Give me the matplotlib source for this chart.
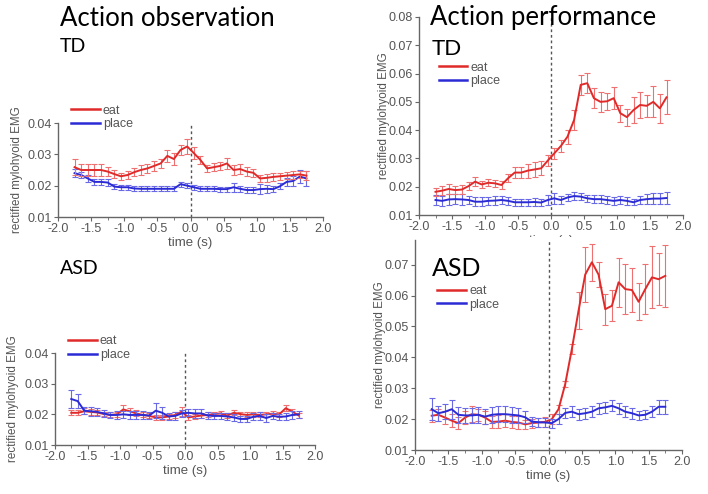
import numpy as np
import matplotlib
matplotlib.use("Agg")
import matplotlib.pyplot as plt
from matplotlib.patches import Rectangle
from matplotlib.lines import Line2D

# ---------------- data ----------------
time_s = [-1.75, -1.65, -1.55, -1.45, -1.35, -1.25, -1.15, -1.05, -0.95, -0.85,
          -0.75, -0.65, -0.55, -0.45, -0.35, -0.25, -0.15, -0.05, 0.05, 0.15,
          0.25, 0.35, 0.45, 0.55, 0.65, 0.75, 0.85, 0.95, 1.05, 1.15,
          1.25, 1.35, 1.45, 1.55, 1.65, 1.75]

# Action observation, TD
obs_td_eat = [0.0259, 0.0250, 0.0250, 0.0250, 0.0250, 0.0245, 0.0237, 0.0230, 0.0234, 0.0243,
              0.0250, 0.0255, 0.0263, 0.0271, 0.0295, 0.0285, 0.0314, 0.0325, 0.0304, 0.0282,
              0.0255, 0.0259, 0.0263, 0.0271, 0.0250, 0.0253, 0.0245, 0.0241, 0.0223, 0.0225,
              0.0228, 0.0230, 0.0232, 0.0234, 0.0236, 0.0232]
obs_td_eat_err = [0.0025, 0.0020, 0.0018, 0.0018, 0.0018, 0.0015, 0.0013, 0.0012, 0.0012, 0.0013,
                  0.0015, 0.0015, 0.0015, 0.0015, 0.0018, 0.0018, 0.0015, 0.0025, 0.0018, 0.0013,
                  0.0012, 0.0012, 0.0012, 0.0018, 0.0015, 0.0015, 0.0013, 0.0013, 0.0012, 0.0012,
                  0.0012, 0.0012, 0.0012, 0.0012, 0.0012, 0.0015]
obs_td_place = [0.0240, 0.0234, 0.0223, 0.0212, 0.0212, 0.0210, 0.0197, 0.0195, 0.0195, 0.0191,
                0.0190, 0.0190, 0.0190, 0.0190, 0.0190, 0.0190, 0.0205, 0.0200, 0.0195, 0.0190,
                0.0190, 0.0190, 0.0189, 0.0189, 0.0195, 0.0190, 0.0186, 0.0186, 0.0189, 0.0190,
                0.0189, 0.0198, 0.0212, 0.0215, 0.0229, 0.0223]
obs_td_place_err = [0.0012, 0.0010, 0.0010, 0.0010, 0.0010, 0.0010, 0.0008, 0.0008, 0.0008, 0.0008,
                    0.0008, 0.0008, 0.0008, 0.0008, 0.0008, 0.0008, 0.0008, 0.0008, 0.0008, 0.0008,
                    0.0008, 0.0008, 0.0008, 0.0008, 0.0015, 0.0010, 0.0010, 0.0010, 0.0015, 0.0012,
                    0.0010, 0.0010, 0.0012, 0.0015, 0.0020, 0.0025]

# Action performance, TD
perf_td_eat = [0.0182, 0.0186, 0.0192, 0.0188, 0.0190, 0.0202, 0.0218, 0.0208, 0.0214, 0.0212,
               0.0206, 0.0230, 0.0250, 0.0250, 0.0257, 0.0261, 0.0265, 0.0292, 0.0318, 0.0344,
               0.0377, 0.0436, 0.0560, 0.0566, 0.0513, 0.0500, 0.0502, 0.0513, 0.0460, 0.0446,
               0.0471, 0.0489, 0.0486, 0.0500, 0.0477, 0.0516]
perf_td_eat_err = [0.0015, 0.0015, 0.0018, 0.0015, 0.0015, 0.0015, 0.0015, 0.0013, 0.0013, 0.0013,
                   0.0013, 0.0015, 0.0020, 0.0020, 0.0025, 0.0025, 0.0025, 0.0020, 0.0020, 0.0020,
                   0.0025, 0.0035, 0.0035, 0.0035, 0.0035, 0.0035, 0.0030, 0.0040, 0.0030, 0.0030,
                   0.0045, 0.0045, 0.0040, 0.0055, 0.0050, 0.0060]
perf_td_place = [0.0153, 0.0150, 0.0155, 0.0156, 0.0155, 0.0153, 0.0147, 0.0147, 0.0150, 0.0151,
                 0.0153, 0.0150, 0.0145, 0.0145, 0.0145, 0.0146, 0.0144, 0.0153, 0.0159, 0.0153,
                 0.0162, 0.0167, 0.0165, 0.0159, 0.0156, 0.0156, 0.0153, 0.0150, 0.0153, 0.0150,
                 0.0145, 0.0153, 0.0156, 0.0158, 0.0158, 0.0160]
perf_td_place_err = [0.0018, 0.0018, 0.0018, 0.0018, 0.0018, 0.0015, 0.0015, 0.0015, 0.0015, 0.0015,
                     0.0015, 0.0015, 0.0013, 0.0013, 0.0013, 0.0013, 0.0013, 0.0018, 0.0020, 0.0015,
                     0.0013, 0.0013, 0.0013, 0.0013, 0.0013, 0.0013, 0.0013, 0.0013, 0.0013, 0.0013,
                     0.0010, 0.0013, 0.0018, 0.0020, 0.0020, 0.0022]

# Action observation, ASD
obs_asd_eat = [0.0205, 0.0205, 0.0210, 0.0208, 0.0206, 0.0201, 0.0198, 0.0200, 0.0216, 0.0210,
               0.0203, 0.0198, 0.0195, 0.0190, 0.0190, 0.0193, 0.0198, 0.0209, 0.0190, 0.0193,
               0.0196, 0.0198, 0.0201, 0.0203, 0.0196, 0.0205, 0.0201, 0.0198, 0.0200, 0.0198,
               0.0200, 0.0202, 0.0200, 0.0220, 0.0209, 0.0196]
obs_asd_eat_err = [0.0008, 0.0008, 0.0010, 0.0010, 0.0008, 0.0008, 0.0008, 0.0008, 0.0015, 0.0012,
                   0.0010, 0.0008, 0.0008, 0.0008, 0.0008, 0.0008, 0.0010, 0.0015, 0.0008, 0.0008,
                   0.0008, 0.0008, 0.0008, 0.0008, 0.0008, 0.0008, 0.0008, 0.0008, 0.0008, 0.0008,
                   0.0008, 0.0008, 0.0008, 0.0010, 0.0010, 0.0008]
obs_asd_place = [0.0250, 0.0243, 0.0212, 0.0210, 0.0208, 0.0203, 0.0198, 0.0198, 0.0200, 0.0198,
                 0.0198, 0.0198, 0.0196, 0.0212, 0.0205, 0.0193, 0.0195, 0.0203, 0.0205, 0.0203,
                 0.0203, 0.0196, 0.0195, 0.0195, 0.0193, 0.0190, 0.0185, 0.0185, 0.0192, 0.0195,
                 0.0188, 0.0195, 0.0192, 0.0193, 0.0198, 0.0200]
obs_asd_place_err = [0.0030, 0.0022, 0.0012, 0.0015, 0.0012, 0.0012, 0.0010, 0.0012, 0.0012, 0.0012,
                     0.0012, 0.0012, 0.0012, 0.0025, 0.0020, 0.0012, 0.0012, 0.0012, 0.0012, 0.0015,
                     0.0015, 0.0010, 0.0010, 0.0010, 0.0012, 0.0012, 0.0010, 0.0010, 0.0012, 0.0012,
                     0.0012, 0.0010, 0.0010, 0.0010, 0.0012, 0.0012]

# Action performance, ASD
perf_asd_eat = [0.0211, 0.0214, 0.0205, 0.0195, 0.0187, 0.0205, 0.0216, 0.0214, 0.0205, 0.0191,
                0.0192, 0.0195, 0.0191, 0.0189, 0.0183, 0.0187, 0.0189, 0.0191, 0.0200, 0.0232,
                0.0313, 0.0427, 0.0551, 0.0668, 0.0708, 0.0668, 0.0556, 0.0567, 0.0643, 0.0621,
                0.0618, 0.0580, 0.0621, 0.0659, 0.0653, 0.0664]
perf_asd_eat_err = [0.0020, 0.0020, 0.0020, 0.0020, 0.0020, 0.0020, 0.0025, 0.0020, 0.0020, 0.0020,
                    0.0020, 0.0020, 0.0020, 0.0020, 0.0015, 0.0015, 0.0015, 0.0015, 0.0015, 0.0015,
                    0.0010, 0.0015, 0.0060, 0.0090, 0.0060, 0.0040, 0.0050, 0.0050, 0.0080, 0.0080,
                    0.0070, 0.0060, 0.0080, 0.0100, 0.0085, 0.0100]
perf_asd_place = [0.0232, 0.0219, 0.0224, 0.0232, 0.0214, 0.0212, 0.0212, 0.0214, 0.0208, 0.0214,
                  0.0216, 0.0216, 0.0214, 0.0212, 0.0206, 0.0192, 0.0190, 0.0189, 0.0187, 0.0200,
                  0.0220, 0.0224, 0.0216, 0.0219, 0.0224, 0.0235, 0.0238, 0.0243, 0.0235, 0.0224,
                  0.0219, 0.0212, 0.0214, 0.0224, 0.0240, 0.0240]
perf_asd_place_err = [0.0035, 0.0025, 0.0025, 0.0030, 0.0025, 0.0025, 0.0025, 0.0025, 0.0025, 0.0025,
                      0.0025, 0.0025, 0.0025, 0.0025, 0.0020, 0.0015, 0.0015, 0.0015, 0.0015, 0.0015,
                      0.0015, 0.0018, 0.0018, 0.0018, 0.0018, 0.0018, 0.0018, 0.0018, 0.0018, 0.0018,
                      0.0018, 0.0015, 0.0015, 0.0018, 0.0022, 0.0022]

xticks = [-2.0, -1.5, -1.0, -0.5, 0.0, 0.5, 1.0, 1.5, 2.0]
series_labels = ["eat", "place"]

# ---------------- style ----------------
RED = "#e02a2a"
RED_E = "#ee7070"
BLUE = "#2b2bd6"
BLUE_E = "#6a6ae6"
GREY = "#555555"
AXF = ["Liberation Sans", "DejaVu Sans"]

W, H = 708, 494
fig = plt.figure(figsize=(W / 100, H / 100), dpi=100)
fig.patch.set_facecolor("white")


def px_axes(l, r, t, b):
    return fig.add_axes([l / W, 1 - b / H, (r - l) / W, (b - t) / H])


def draw(ax, eat, eat_err, place, place_err, ylim, yticks, leg_anchor, ylab_x,
         xlabel=True, zorder_place_top=False):
    ax.errorbar(time_s, eat, yerr=eat_err, color=RED, ecolor=RED_E, lw=1.4,
                elinewidth=0.8, capsize=2, capthick=0.8, zorder=3)
    ax.errorbar(time_s, place, yerr=place_err, color=BLUE, ecolor=BLUE_E, lw=1.4,
                elinewidth=0.8, capsize=2, capthick=0.8,
                zorder=4 if zorder_place_top else 2)
    ax.axvline(0, color="#555555", ls=(0, (2, 2)), lw=1.0, zorder=1)
    ax.set_xlim(-2.0, 2.0)
    ax.set_ylim(*ylim)
    ax.set_xticks(xticks)
    ax.set_xticklabels([f"{v:.1f}" for v in xticks], family=AXF)
    ax.set_yticks(yticks)
    ax.set_yticklabels([f"{v:.2f}" for v in yticks], family=AXF)
    ax.set_xticks(np.arange(-1.75, 2.0, 0.5), minor=True)
    for s in ["top", "right"]:
        ax.spines[s].set_visible(False)
    for s in ["left", "bottom"]:
        ax.spines[s].set_color("#666666")
        ax.spines[s].set_linewidth(1.0)
    ax.tick_params(axis="both", which="major", direction="out", length=3,
                   color="#666666", labelcolor=GREY, labelsize=9, pad=1.5)
    ax.tick_params(axis="both", which="minor", direction="out", length=2,
                   color="#666666")
    ax.set_ylabel("rectified mylohyoid EMG", fontsize=8.4, color=GREY, family=AXF)
    ax.yaxis.set_label_coords(ylab_x, 0.5)
    if xlabel:
        ax.set_xlabel("time (s)", fontsize=9.5, color=GREY, labelpad=1, family=AXF)
    handles = [Line2D([], [], color=RED, lw=1.8), Line2D([], [], color=BLUE, lw=1.8)]
    leg = ax.legend(handles, series_labels, loc="upper left", bbox_to_anchor=leg_anchor,
                    frameon=False, prop={"family": AXF, "size": 9},
                    handlelength=2.3, handletextpad=0.25,
                    labelspacing=0.15, borderaxespad=0)
    for t in leg.get_texts():
        t.set_color(GREY)
    ax.patch.set_alpha(0)


# Panel 1: observation TD
ax1 = px_axes(58, 323, 123, 217)
draw(ax1, obs_td_eat, obs_td_eat_err, obs_td_place, obs_td_place_err,
     (0.01, 0.04), [0.01, 0.02, 0.03, 0.04], (0.03, 1.25), -0.132)

# Panel 2: performance TD
ax2 = px_axes(419, 683, 17, 215)
draw(ax2, perf_td_eat, perf_td_eat_err, perf_td_place, perf_td_place_err,
     (0.01, 0.08), [0.01, 0.02, 0.03, 0.04, 0.05, 0.06, 0.07, 0.08], (0.055, 0.80), -0.108)

# Panel 3: observation ASD
ax3 = px_axes(55, 315, 353, 445)
draw(ax3, obs_asd_eat, obs_asd_eat_err, obs_asd_place, obs_asd_place_err,
     (0.01, 0.04), [0.01, 0.02, 0.03, 0.04], (0.03, 1.25), -0.14,
     zorder_place_top=True)

# white band hiding part of the upper right x-label
fig.patches.append(Rectangle((400 / W, 1 - 250 / H), 300 / W, 13 / H,
                             transform=fig.transFigure, facecolor="white",
                             edgecolor="none", zorder=1))

# Panel 4: performance ASD
ax4 = px_axes(415, 682, 240, 450)
ax4.set_zorder(2)
draw(ax4, perf_asd_eat, perf_asd_eat_err, perf_asd_place, perf_asd_place_err,
     (0.01, 0.078), [0.01, 0.02, 0.03, 0.04, 0.05, 0.06, 0.07], (0.065, 0.81), -0.108,
     zorder_place_top=True)

# ---------------- headings ----------------
HF = "Lato"
fig.text(60 / W, 1 - 18 / H, "Action observation", fontsize=18.5, family=HF,
         va="center", ha="left", color="black")
fig.text(60 / W, 1 - 47 / H, "TD", fontsize=14, family=HF, va="center", ha="left")
fig.text(430 / W, 1 - 18 / H, "Action performance", fontsize=18.5, family=HF,
         va="center", ha="left")
fig.text(432 / W, 1 - 49 / H, "TD", fontsize=16, family=HF, va="center", ha="left")
fig.text(60 / W, 1 - 268 / H, "ASD", fontsize=14, family=HF, va="center", ha="left")
fig.text(432 / W, 1 - 268 / H, "ASD", fontsize=18, family=HF, va="center", ha="left",
         zorder=5)

fig.savefig("out.png", dpi=100)
